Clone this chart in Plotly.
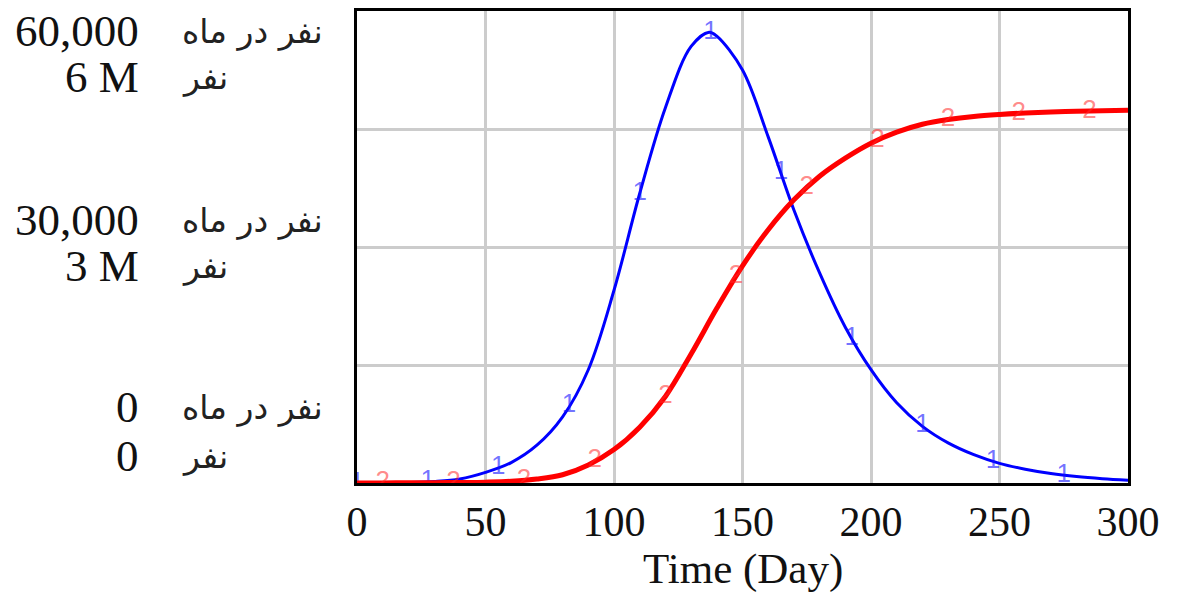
import plotly.graph_objects as go

# ---- data ----
days_blue = [0, 10, 20, 30, 40, 50, 60, 70, 80, 90, 100, 110, 120, 130, 137, 140, 150, 160,
             170, 180, 190, 200, 210, 220, 230, 240, 250, 260, 270, 280, 290, 300]
blue_vals = [0, 20, 60, 180, 500, 1350, 2600, 4800, 8400, 14400, 24500, 36800, 47700, 55500,
             57300, 56800, 52500, 44000, 34700, 26700, 19800, 14400, 10200, 7200, 5100, 3600,
             2500, 1750, 1200, 820, 550, 350]

days_red = [0, 10, 20, 30, 40, 50, 60, 70, 80, 90, 100, 110, 120, 130, 140, 150, 160, 170,
            180, 190, 200, 210, 220, 230, 240, 250, 260, 270, 280, 290, 300]
red_vals = [0, 1000, 2500, 4500, 7000, 11000, 22000, 50000, 105000, 230000, 425000,
            710000, 1100000, 1640000, 2220000, 2760000, 3220000, 3600000, 3900000, 4130000,
            4320000, 4460000, 4560000, 4620000, 4660000, 4685000, 4703000, 4715000, 4725000,
            4732000, 4737000]

blue_mark_days = [0, 27.5, 55, 82.5, 110, 137.5, 165, 192.5, 220, 247.5, 275]
blue_mark_vals = [0, 150, 1950, 9800, 36800, 57300, 39500, 18400, 7300, 2700, 1000]
red_mark_days = [10, 37.5, 65, 92.5, 120, 147.5, 175, 202.5, 230, 257.5, 285]
red_mark_vals = [1000, 6000, 33000, 280000, 1100000, 2630000, 3760000, 4360000, 4620000,
                 4700000, 4728000]

x_ticks = [0, 50, 100, 150, 200, 250, 300]
y_tick_vals = [0, 30000, 60000]
y_tick_text_blue = ["0", "30,000", "60,000"]
y_tick_text_red = ["0", "3 M", "6 M"]
unit_blue = "نفر در ماه"
unit_red = "نفر"
x_title = "Time (Day)"

SERIF = "Liberation Serif"
SANS = "Liberation Sans"
ARAB = "DejaVu Sans"

fig = go.Figure()
fig.add_trace(go.Scatter(x=days_red, y=red_vals, yaxis="y2", mode="lines",
                         line=dict(color="#ff0000", width=5, shape="spline", smoothing=1.0),
                         showlegend=False, hoverinfo="skip"))
fig.add_trace(go.Scatter(x=red_mark_days, y=red_mark_vals, yaxis="y2", mode="text",
                         text=["2"] * len(red_mark_days),
                         textfont=dict(family=SANS, size=26, color="rgba(255,40,40,0.55)"),
                         showlegend=False, hoverinfo="skip"))
fig.add_trace(go.Scatter(x=days_blue, y=blue_vals, mode="lines",
                         line=dict(color="#0000ff", width=3, shape="spline", smoothing=1.0),
                         showlegend=False, hoverinfo="skip"))
fig.add_trace(go.Scatter(x=blue_mark_days, y=blue_mark_vals, mode="text",
                         text=["1"] * len(blue_mark_days),
                         textfont=dict(family=SANS, size=26, color="rgba(20,20,255,0.6)"),
                         showlegend=False, hoverinfo="skip"))

grid = "#cccccc"
fig.update_layout(
    width=1195, height=594, autosize=False,
    margin=dict(l=357, r=67, t=8, b=111),
    paper_bgcolor="white", plot_bgcolor="white",
    xaxis=dict(range=[0, 300], tickvals=x_ticks, showgrid=True, gridcolor=grid, gridwidth=3,
               zeroline=False, showline=True, linecolor="black", linewidth=3, mirror=True,
               tickfont=dict(family=SERIF, size=42, color="#111"), ticks="",
               ticklabelstandoff=0),
    yaxis=dict(range=[0, 60000], tickvals=[0, 15000, 30000, 45000, 60000], showticklabels=False,
               showgrid=True, gridcolor=grid, gridwidth=3, zeroline=False, showline=True,
               linecolor="black", linewidth=3, mirror=True, ticks=""),
    yaxis2=dict(range=[0, 6000000], overlaying="y", showgrid=False, showticklabels=False,
                zeroline=False, ticks=""),
)

ann = []
# label offsets (px) relative to the tick value: (number line, unit line)
shifts = {0: (76, 27), 30000: (27, -19), 60000: (-20, -66)}
for v, tb, tr in zip(y_tick_vals, y_tick_text_blue, y_tick_text_red):
    s1, s2 = shifts[v]
    for txt, s in ((tb, s1), (tr, s2)):
        ann.append(dict(x=(141 - 357) / 771, xref="paper", y=v, yref="y", yshift=s, text=txt,
                        xanchor="right", yanchor="middle", showarrow=False,
                        font=dict(family=SERIF, size=45, color="#111")))
    for txt, s in ((unit_blue, s1), (unit_red, s2)):
        ann.append(dict(x=(180 - 357) / 771, xref="paper", y=v, yref="y", yshift=s, text=txt,
                        xanchor="left", yanchor="middle", showarrow=False,
                        font=dict(family=ARAB, size=33, color="#222")))
ann.append(dict(x=0.5, xref="paper", y=(483 - 570) / 475, yref="paper", text=x_title,
                xanchor="center", yanchor="middle", showarrow=False,
                font=dict(family=SERIF, size=43, color="#111")))
fig.update_layout(annotations=ann)

fig.write_html("out.html", config={"displayModeBar": False},
               post_script="document.body.style.margin='0px';")
